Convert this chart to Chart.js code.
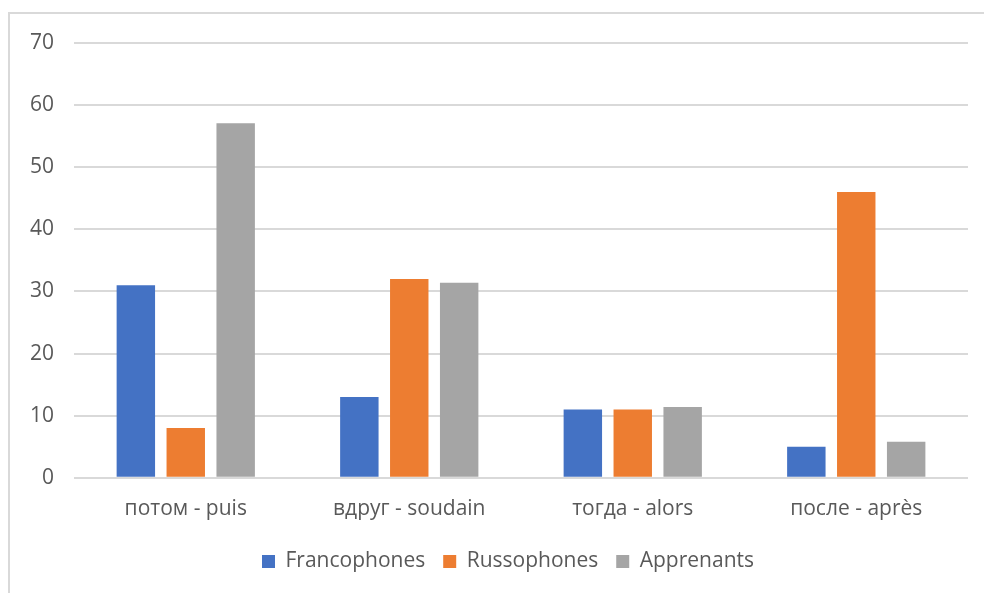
<!DOCTYPE html>
<html>
<head>
<meta charset="utf-8">
<script src="https://cdn.jsdelivr.net/npm/chart.js@4/dist/chart.umd.min.js"></script>
<style>
    html, body { margin: 0; padding: 0; background: #fff; overflow: hidden; }
    #cadre {
        position: absolute; left: 8px; top: 12px;
        width: 990px; height: 600px;
        border: 2px solid #d9d9d9; box-sizing: border-box;
    }
    #graf { position: absolute; left: 0; top: 0; }
</style>
</head>
<body>
<div id="cadre"></div>
<canvas id="graf" width="984" height="593"></canvas>
<script>
// Données du graphique
var categories = ['потом - puis', 'вдруг - soudain', 'тогда - alors', 'после - après'];
var francophones = [31, 13, 11, 5];
var russophones = [8, 32, 11, 46];
var apprenants = [57.1, 31.4, 11.4, 5.8];
var ticksY = [0, 10, 20, 30, 40, 50, 60, 70];

var police = "'Open Sans', 'Noto Sans', sans-serif";
var gris = '#595959';

function serie(label, data, couleur) {
    return {
        label: label,
        data: data,
        backgroundColor: couleur,
        borderWidth: 0,
        categoryPercentage: 0.67,
        barPercentage: 0.77
    };
}

// Décale la légende vers la droite, centrée sous la zone du graphique
var decalageLegende = {
    id: 'decalageLegende',
    afterLayout: function (chart) {
        chart.legend.left += 19;
        chart.legend.right += 19;
    }
};

var ctx = document.getElementById('graf').getContext('2d');
var chart = new Chart(ctx, {
    type: 'bar',
    data: {
        labels: categories,
        datasets: [
            serie('Francophones', francophones, '#4472c4'),
            serie('Russophones', russophones, '#ed7d31'),
            serie('Apprenants', apprenants, '#a5a5a5')
        ]
    },
    plugins: [decalageLegende],
    options: {
        responsive: false,
        animation: false,
        layout: { padding: { left: 10, right: 16, top: 43, bottom: 11 } },
        plugins: {
            tooltip: { enabled: false },
            legend: {
                position: 'bottom',
                labels: {
                    color: gris,
                    font: { family: police, size: 21 },
                    boxWidth: 13, boxHeight: 13,
                    padding: 18
                }
            }
        },
        scales: {
            x: {
                grid: { display: false },
                border: { display: false },
                ticks: { color: gris, font: { family: police, size: 21 }, padding: 11 }
            },
            y: {
                min: 0, max: 70,
                afterBuildTicks: function (axe) {
                    axe.ticks = ticksY.map(function (v) { return { value: v }; });
                },
                grid: { color: '#d9d9d9', lineWidth: 2, drawTicks: false },
                border: { display: false },
                ticks: { color: gris, font: { family: police, size: 21 }, padding: 20 }
            }
        }
    }
});
</script>
</body>
</html>
